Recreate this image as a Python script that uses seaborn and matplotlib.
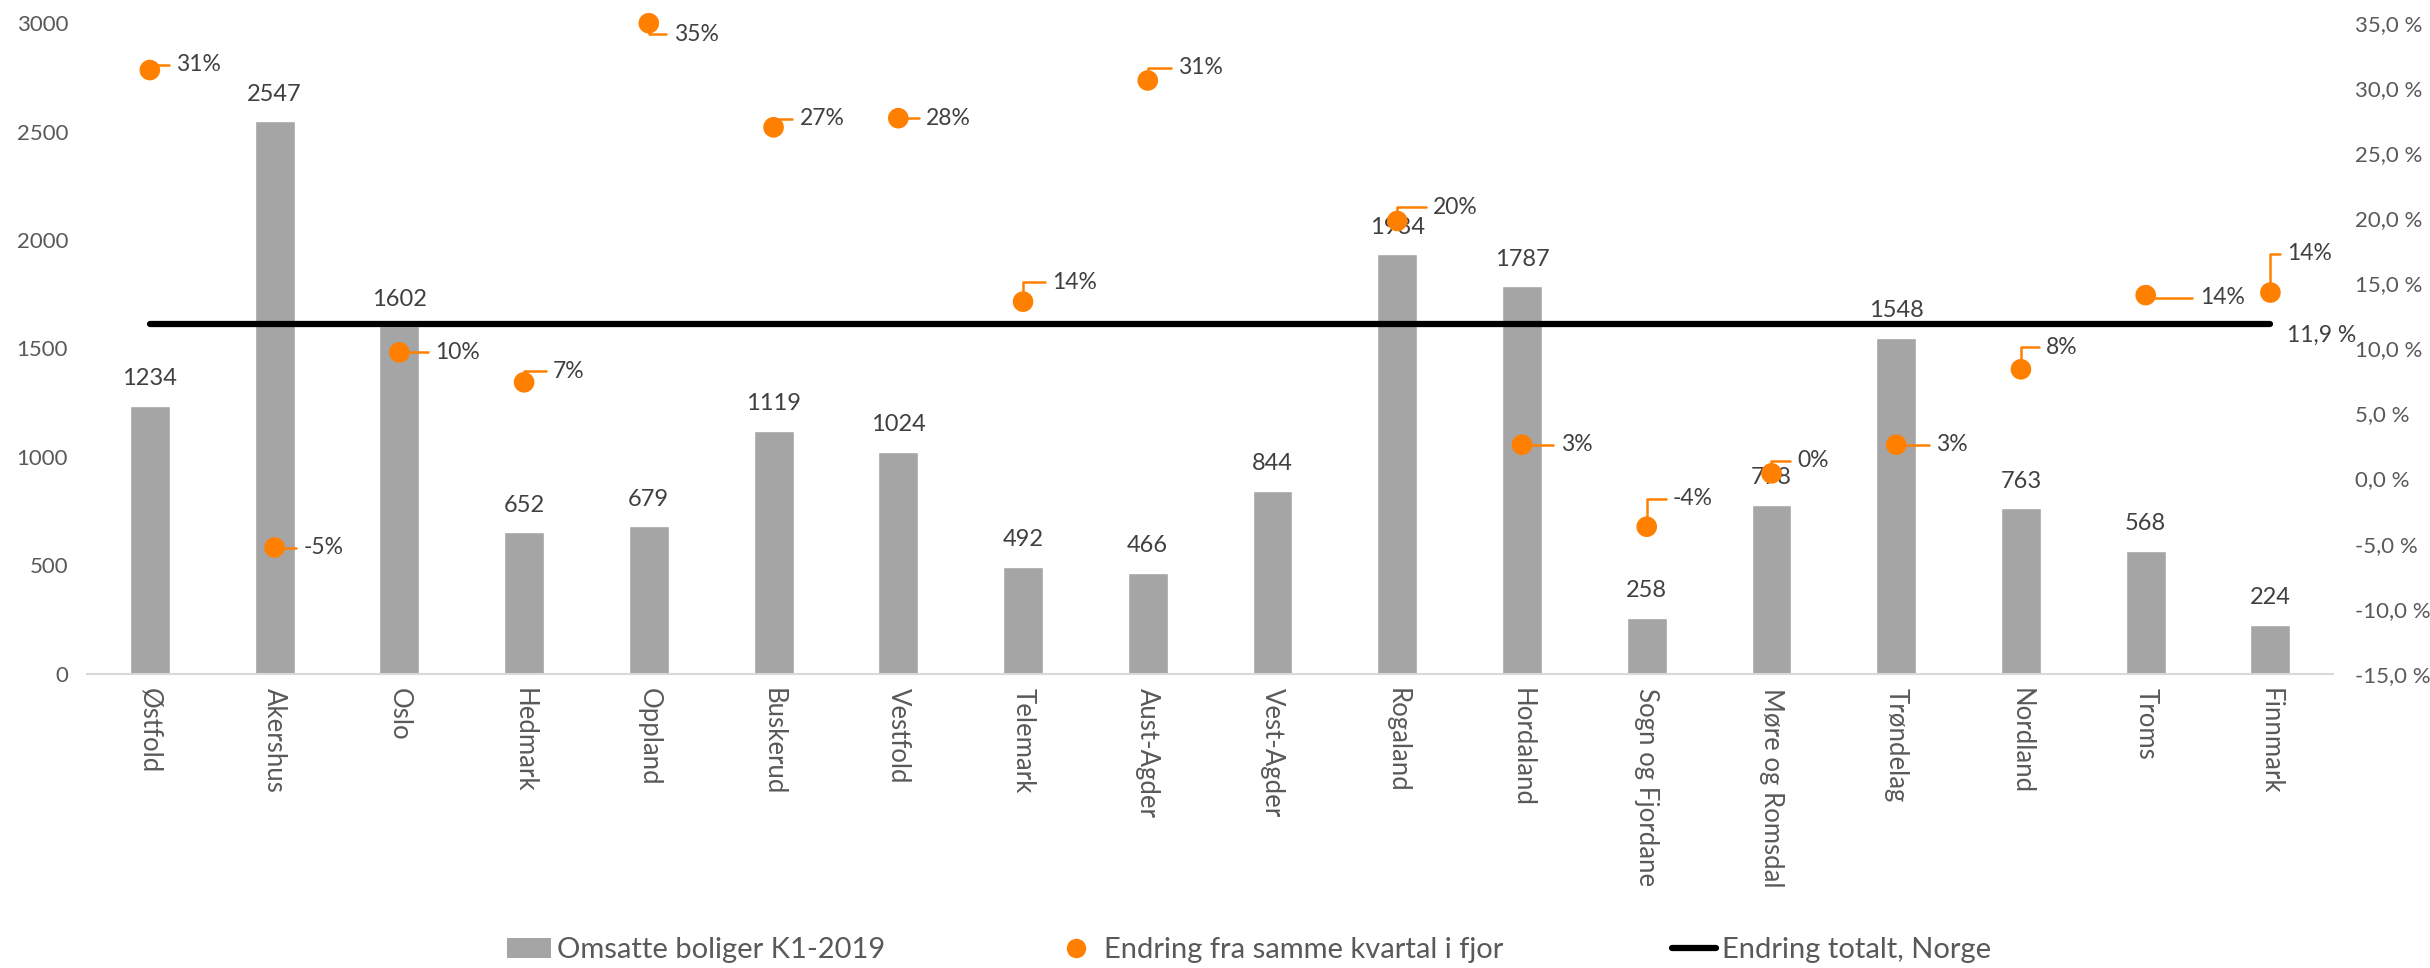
import numpy as np
import pandas as pd
import seaborn as sns
import matplotlib.pyplot as plt
from matplotlib.lines import Line2D
from matplotlib.patches import Patch

# data
fylker = ["Østfold", "Akershus", "Oslo", "Hedmark", "Oppland", "Buskerud", "Vestfold",
          "Telemark", "Aust-Agder", "Vest-Agder", "Rogaland", "Hordaland",
          "Sogn og Fjordane", "Møre og Romsdal", "Trøndelag", "Nordland", "Troms", "Finnmark"]
omsatte = [1234, 2547, 1602, 652, 679, 1119, 1024, 492, 466, 844, 1934, 1787, 258, 778, 1548, 763, 568, 224]
endring = [31.4, -5.3, 9.7, 7.4, 35.0, 27.0, 27.7, 13.6, 30.6, np.nan, 19.8, 2.6, -3.7, 0.4, 2.6, 8.4, 14.1, 14.3]
endring_totalt = 11.9

# label offsets (points) for the orange data labels
lbl_off = [(19, 4), (21, 0), (26, 0), (21, 8), (18, -8), (19, 6), (20, 0), (21, 14), (22, 9), (0, 0),
           (26, 10), (28, 0), (19, 20), (19, 9), (29, 0), (18, 16), (39, -2), (12, 28)]

df = pd.DataFrame({"fylke": fylker, "omsatte": omsatte, "endring": endring})
df["pos"] = np.arange(len(df))
df["totalt"] = endring_totalt

GREY = "#A5A5A5"
ORANGE = "#FF8000"
TXT = "#595959"
TXT2 = "#404040"

sns.set_theme(style="white")
plt.rcParams["font.family"] = ["Lato", "DejaVu Sans"]

fig, ax = plt.subplots(figsize=(24.3, 9.68), dpi=100)
fig.subplots_adjust(left=0.036, right=0.96, bottom=0.304, top=0.976)

sns.barplot(data=df, x="fylke", y="omsatte", color=GREY, saturation=1, width=0.32, ax=ax)
ax.bar_label(ax.containers[0], padding=12, fontsize=17, color=TXT2)
ax.set_ylim(0, 3000)
ax.set_yticks(np.arange(0, 3001, 500))
ax.set_xlim(-0.5, len(df) - 0.5)
ax.set_xlabel("")
ax.set_ylabel("")
ax.tick_params(axis="y", labelsize=16, colors=TXT, length=0, pad=14)
ax.tick_params(axis="x", labelsize=18.5, colors=TXT, length=0, pad=10, labelrotation=-90)
for s in ["top", "left", "right"]:
    ax.spines[s].set_visible(False)
ax.spines["bottom"].set_color("#D9D9D9")
ax.spines["bottom"].set_linewidth(1.5)

ax2 = ax.twinx()
sns.lineplot(data=df, x="pos", y="totalt", color="black", linewidth=4.5, ax=ax2,
             solid_capstyle="round")
sns.scatterplot(data=df, x="pos", y="endring", color=ORANGE, s=220, edgecolor="none", ax=ax2,
                zorder=4, clip_on=False)
ax2.set_ylim(-15, 35)
ax2.set_yticks(np.arange(-15, 36, 5))
ax2.set_yticklabels([f"{v:.1f} %".replace(".", ",") for v in np.arange(-15, 36, 5)])
ax2.tick_params(axis="y", labelsize=16, colors=TXT, length=0, pad=16)
ax2.set_xlabel("")
ax2.set_ylabel("")
for s in ax2.spines.values():
    s.set_visible(False)
ax.set_xlim(-0.5, len(df) - 0.5)

# orange data labels with leader lines
for i, row in df.iterrows():
    if np.isnan(row["endring"]):
        continue
    ax2.annotate(f"{row['endring']:.0f}%", xy=(row["pos"], row["endring"]),
                 xytext=lbl_off[i], textcoords="offset points", ha="left", va="center",
                 fontsize=16.5, color=TXT2, annotation_clip=False,
                 arrowprops=dict(arrowstyle="-", color=ORANGE, lw=1.8, shrinkA=3, shrinkB=5,
                                 connectionstyle="angle,angleA=0,angleB=90,rad=0"))

# label for total line
ax2.annotate(f"{endring_totalt:.1f} %".replace(".", ","), xy=(len(df) - 1, endring_totalt),
             xytext=(12, -8), textcoords="offset points", ha="left", va="center",
             fontsize=16.5, color=TXT2)

handles = [Patch(facecolor=GREY, edgecolor="none"),
           Line2D([], [], marker="o", color="none", markerfacecolor=ORANGE, markeredgecolor="none", markersize=14),
           Line2D([], [], color="black", linewidth=4.5)]
labels = ["Omsatte boliger K1-2019", "Endring fra samme kvartal i fjor", "Endring totalt, Norge"]
fig.legend(handles, labels, loc="lower center", bbox_to_anchor=(0.514, -0.022), ncol=3, frameon=False,
           fontsize=21, labelcolor=TXT, columnspacing=5.8, handlelength=1.5, handletextpad=0.2)

plt.savefig("out.png", dpi=100)
